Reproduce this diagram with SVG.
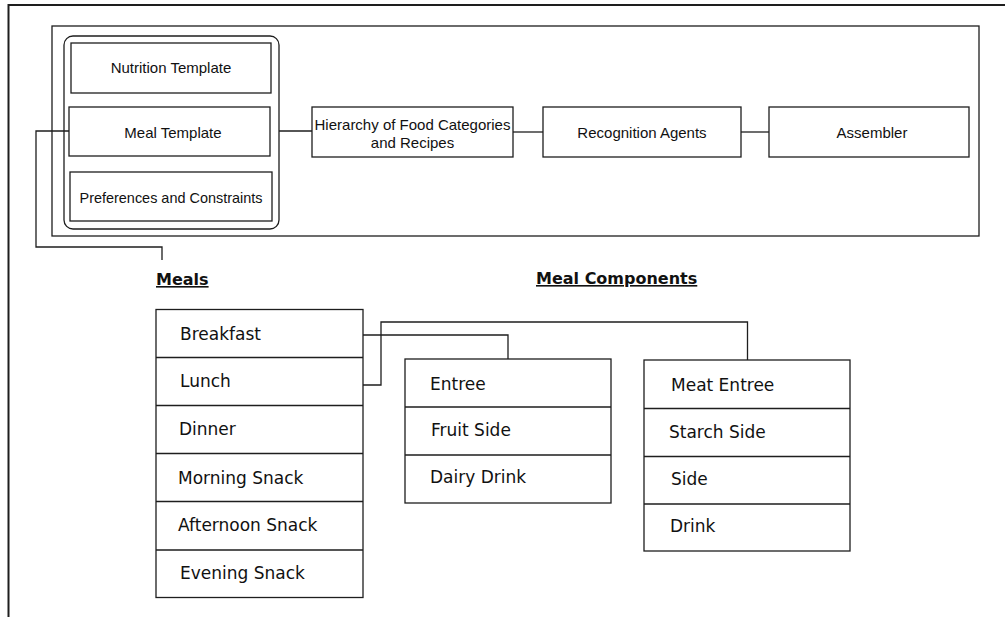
<svg xmlns="http://www.w3.org/2000/svg" width="1005" height="617" viewBox="0 0 1005 617">
  <style>
    .frame { fill: none; stroke: #1e1e1e; stroke-width: 2; }
    .box { fill: #ffffff; stroke: #1e1e1e; stroke-width: 1.3; }
    .wire { fill: none; stroke: #1e1e1e; stroke-width: 1.3; }
    .sys { font-family: "Liberation Sans", Arial, sans-serif; font-size: 15px; fill: #111; text-anchor: middle; }
    .item { font-family: "DejaVu Sans", Verdana, sans-serif; font-size: 17px; fill: #111; }
    .head { font-family: "DejaVu Sans", Verdana, sans-serif; font-weight: bold; font-size: 16px; fill: #111; text-decoration: underline; }
  </style>

  <rect width="1005" height="617" fill="#ffffff"/>

  <!-- page border: top and left edges only -->
  <path class="frame" d="M8.5,617 V5 H1005"/>

  <!-- system pipeline container -->
  <rect id="system" class="box" x="52" y="26" width="927" height="210"/>

  <!-- template group -->
  <g id="templates">
    <rect class="box" x="64" y="36" width="215" height="193" rx="9" ry="9"/>
    <g id="nutrition-template">
      <rect class="box" x="71" y="43" width="200" height="50"/>
      <text class="sys" x="171" y="73">Nutrition Template</text>
    </g>
    <g id="meal-template">
      <rect class="box" x="69" y="107" width="201" height="49"/>
      <text class="sys" x="173" y="137.5">Meal Template</text>
    </g>
    <g id="preferences">
      <rect class="box" x="70" y="172" width="202" height="49"/>
      <text class="sys" x="171" y="203" textLength="183" lengthAdjust="spacingAndGlyphs">Preferences and Constraints</text>
    </g>
  </g>

  <g id="hierarchy">
    <rect class="box" x="312" y="107" width="201" height="50"/>
    <text class="sys" x="412.5" y="129.5">Hierarchy of Food Categories</text>
    <text class="sys" x="412.5" y="147.5">and Recipes</text>
  </g>

  <g id="recognition">
    <rect class="box" x="543" y="107" width="198" height="50"/>
    <text class="sys" x="642" y="137.5">Recognition Agents</text>
  </g>

  <g id="assembler">
    <rect class="box" x="769" y="107" width="200" height="50"/>
    <text class="sys" x="872" y="137.5">Assembler</text>
  </g>

  <!-- section headings -->
  <text class="head" x="156" y="285">Meals</text>
  <text class="head" x="536" y="284">Meal Components</text>

  <!-- meals list -->
  <g id="meals">
    <rect class="box" x="156" y="309.5" width="207" height="288"/>
    <path class="wire" d="M156,357.5 H363 M156,405.5 H363 M156,453.5 H363 M156,501.5 H363 M156,550 H363"/>
    <text class="item" x="180" y="340">Breakfast</text>
    <text class="item" x="180" y="387">Lunch</text>
    <text class="item" x="179" y="435">Dinner</text>
    <text class="item" x="178" y="484">Morning Snack</text>
    <text class="item" x="178" y="531">Afternoon Snack</text>
    <text class="item" x="180" y="579">Evening Snack</text>
  </g>

  <!-- breakfast components -->
  <g id="breakfast-components">
    <rect class="box" x="405" y="359" width="206" height="144"/>
    <path class="wire" d="M405,407 H611 M405,455 H611"/>
    <text class="item" x="430" y="389.5">Entree</text>
    <text class="item" x="431" y="436">Fruit Side</text>
    <text class="item" x="430" y="483">Dairy Drink</text>
  </g>

  <!-- lunch components -->
  <g id="lunch-components">
    <rect class="box" x="644" y="360" width="206" height="191"/>
    <path class="wire" d="M644,408.5 H850 M644,456.5 H850 M644,504 H850"/>
    <text class="item" x="671" y="391">Meat Entree</text>
    <text class="item" x="669" y="437.5">Starch Side</text>
    <text class="item" x="671" y="484.5">Side</text>
    <text class="item" x="670" y="532">Drink</text>
  </g>

  <!-- connectors -->
  <g id="connectors">
    <path class="wire" d="M69,131 H36 V247 H162 V260"/>
    <path class="wire" d="M279,131 H312"/>
    <path class="wire" d="M513,132 H543"/>
    <path class="wire" d="M741,132 H769"/>
    <path class="wire" d="M363,335 H508 V359"/>
    <path class="wire" d="M363,385 H381 V322 H747.5 V360"/>
  </g>
</svg>
